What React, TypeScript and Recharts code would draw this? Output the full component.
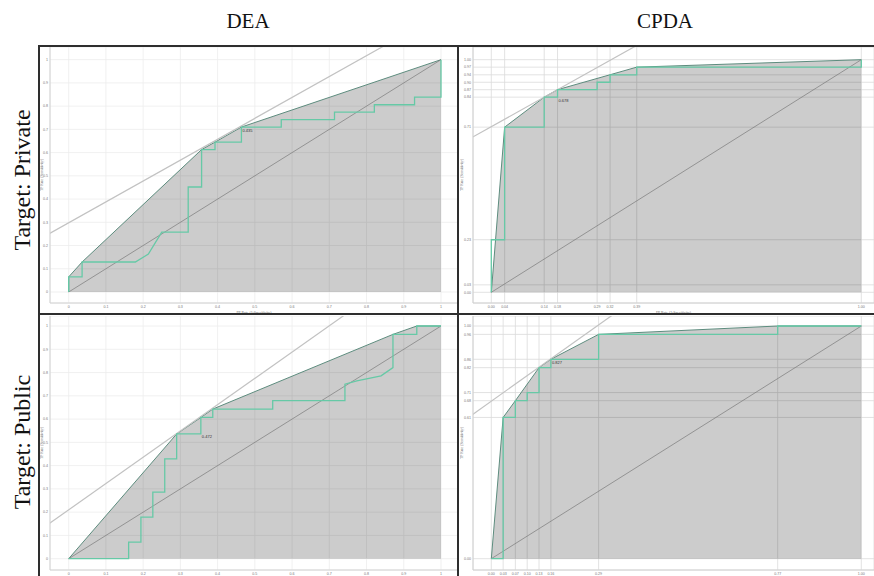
import React from 'react';
import {
  ComposedChart,
  Area,
  Line,
  Scatter,
  XAxis,
  YAxis,
  CartesianGrid,
  ReferenceLine,
} from 'recharts';

type Pt = { x: number; y: number };

// DEA - private target
const deaPrivateRoc: Pt[] = [
  { x: 0, y: 0 }, { x: 0, y: 0.065 }, { x: 0.036, y: 0.065 }, { x: 0.036, y: 0.129 },
  { x: 0.179, y: 0.129 }, { x: 0.214, y: 0.163 }, { x: 0.25, y: 0.258 }, { x: 0.321, y: 0.258 },
  { x: 0.321, y: 0.452 }, { x: 0.357, y: 0.452 }, { x: 0.357, y: 0.613 }, { x: 0.393, y: 0.613 },
  { x: 0.393, y: 0.645 }, { x: 0.464, y: 0.645 }, { x: 0.464, y: 0.71 }, { x: 0.571, y: 0.71 },
  { x: 0.571, y: 0.742 }, { x: 0.714, y: 0.742 }, { x: 0.714, y: 0.774 }, { x: 0.821, y: 0.774 },
  { x: 0.821, y: 0.806 }, { x: 0.929, y: 0.806 }, { x: 0.929, y: 0.839 }, { x: 1, y: 0.839 },
  { x: 1, y: 1 },
];
const deaPrivateHull: Pt[] = [
  { x: 0, y: 0 }, { x: 0, y: 0.065 }, { x: 0.036, y: 0.129 }, { x: 0.357, y: 0.613 },
  { x: 0.393, y: 0.645 }, { x: 0.464, y: 0.71 }, { x: 1, y: 1 },
];
const deaPrivateTangent = { intercept: 0.298, slope: 0.899 };
const deaPrivateCut = [{ x: 0.464, y: 0.71, label: '0.435' }];

// CPDA - private target
const cpdaPrivateRoc: Pt[] = [
  { x: 0, y: 0 }, { x: 0, y: 0.226 }, { x: 0.036, y: 0.226 }, { x: 0.036, y: 0.71 },
  { x: 0.143, y: 0.71 }, { x: 0.143, y: 0.839 }, { x: 0.179, y: 0.839 }, { x: 0.179, y: 0.871 },
  { x: 0.286, y: 0.871 }, { x: 0.286, y: 0.903 }, { x: 0.321, y: 0.903 }, { x: 0.321, y: 0.935 },
  { x: 0.393, y: 0.935 }, { x: 0.393, y: 0.968 }, { x: 1, y: 0.968 }, { x: 1, y: 1 },
];
const cpdaPrivateHull: Pt[] = [
  { x: 0, y: 0 }, { x: 0.036, y: 0.71 }, { x: 0.143, y: 0.839 }, { x: 0.179, y: 0.871 },
  { x: 0.393, y: 0.968 }, { x: 1, y: 1 },
];
const cpdaPrivateXTicks = [0, 0.036, 0.143, 0.179, 0.286, 0.321, 0.393, 1];
const cpdaPrivateYTicks = [0, 0.032, 0.226, 0.71, 0.839, 0.871, 0.903, 0.935, 0.968, 1];
const cpdaPrivateTangent = { intercept: 0.712, slope: 0.889 };
const cpdaPrivateCut = [{ x: 0.179, y: 0.839, label: '0.678' }];

// DEA - public target
const deaPublicRoc: Pt[] = [
  { x: 0, y: 0 }, { x: 0.161, y: 0 }, { x: 0.161, y: 0.071 }, { x: 0.194, y: 0.071 },
  { x: 0.194, y: 0.179 }, { x: 0.226, y: 0.179 }, { x: 0.226, y: 0.286 }, { x: 0.258, y: 0.286 },
  { x: 0.258, y: 0.429 }, { x: 0.29, y: 0.429 }, { x: 0.29, y: 0.536 }, { x: 0.355, y: 0.536 },
  { x: 0.355, y: 0.607 }, { x: 0.387, y: 0.607 }, { x: 0.387, y: 0.643 }, { x: 0.548, y: 0.643 },
  { x: 0.548, y: 0.679 }, { x: 0.742, y: 0.679 }, { x: 0.742, y: 0.75 }, { x: 0.774, y: 0.764 },
  { x: 0.839, y: 0.786 }, { x: 0.871, y: 0.821 }, { x: 0.871, y: 0.964 }, { x: 0.935, y: 0.964 },
  { x: 0.935, y: 1 }, { x: 1, y: 1 },
];
const deaPublicHull: Pt[] = [
  { x: 0, y: 0 }, { x: 0.29, y: 0.536 }, { x: 0.355, y: 0.607 }, { x: 0.387, y: 0.643 },
  { x: 0.871, y: 0.964 }, { x: 0.935, y: 1 }, { x: 1, y: 1 },
];
const deaPublicTangent = { intercept: 0.21, slope: 1.13 };
const deaPublicCut = [{ x: 0.355, y: 0.536, label: '0.472' }];

// CPDA - public target
const cpdaPublicRoc: Pt[] = [
  { x: 0, y: 0 }, { x: 0.032, y: 0 }, { x: 0.032, y: 0.607 }, { x: 0.065, y: 0.607 },
  { x: 0.065, y: 0.679 }, { x: 0.097, y: 0.679 }, { x: 0.097, y: 0.714 }, { x: 0.129, y: 0.714 },
  { x: 0.129, y: 0.821 }, { x: 0.161, y: 0.821 }, { x: 0.161, y: 0.857 }, { x: 0.29, y: 0.857 },
  { x: 0.29, y: 0.964 }, { x: 0.774, y: 0.964 }, { x: 0.774, y: 1 }, { x: 1, y: 1 },
];
const cpdaPublicHull: Pt[] = [
  { x: 0, y: 0 }, { x: 0.032, y: 0.607 }, { x: 0.065, y: 0.679 }, { x: 0.129, y: 0.821 },
  { x: 0.161, y: 0.857 }, { x: 0.29, y: 0.964 }, { x: 0.774, y: 1 }, { x: 1, y: 1 },
];
const cpdaPublicXTicks = [0, 0.032, 0.065, 0.097, 0.129, 0.161, 0.29, 0.774, 1];
const cpdaPublicYTicks = [0, 0.607, 0.679, 0.714, 0.821, 0.857, 0.964, 1];
const cpdaPublicTangent = { intercept: 0.677, slope: 1.13 };
const cpdaPublicCut = [{ x: 0.161, y: 0.857, label: '0.827' }];

const tenthTicks = [0, 0.1, 0.2, 0.3, 0.4, 0.5, 0.6, 0.7, 0.8, 0.9, 1];

const ROC_GREEN = '#66c9a6';
const HULL_LINE = '#5d8c7e';
const AXIS_FONT = '"Liberation Sans", Arial, sans-serif';

interface PanelProps {
  left: number;
  top: number;
  width: number;
  height: number;
  axisWidth: number;
  axisHeight: number;
  xDomain: [number, number];
  yDomain: [number, number];
  xTicks: number[];
  yTicks: number[];
  fmt: (v: number) => string;
  gridColor: string;
  roc: Pt[];
  hull: Pt[];
  tangent: { intercept: number; slope: number };
  cut: { x: number; y: number; label: string }[];
  showXTitle?: boolean;
}

const CutLabel = (props: any) => {
  const { cx, cy, payload } = props;
  return (
    <text x={cx + 1} y={cy + 4.5} fontSize={4} fill="#333" fontFamily={AXIS_FONT}>
      {payload.label}
    </text>
  );
};

const RocPanel: React.FC<PanelProps> = (p) => {
  const { intercept, slope } = p.tangent;
  const tick = { fontSize: 3.6, fill: '#777', fontFamily: AXIS_FONT };
  return (
    <div style={{ position: 'absolute', left: p.left, top: p.top }}>
      <ComposedChart
        width={p.width}
        height={p.height}
        margin={{ top: 0, right: 0, bottom: 0, left: 0 }}
      >
        <CartesianGrid stroke={p.gridColor} strokeWidth={0.8} />
        <XAxis
          type="number"
          dataKey="x"
          domain={p.xDomain}
          allowDataOverflow
          ticks={p.xTicks}
          interval={0}
          tickFormatter={p.fmt}
          tick={tick}
          tickLine={false}
          tickSize={1}
          tickMargin={1}
          height={p.axisHeight}
          axisLine={{ stroke: '#d2d2d2', strokeWidth: 1 }}
          label={
            p.showXTitle
              ? { value: 'FP Rate (1-Specificity)', position: 'insideBottom', offset: 0, fontSize: 3.8, fill: '#666' }
              : undefined
          }
        />
        <YAxis
          type="number"
          dataKey="y"
          domain={p.yDomain}
          allowDataOverflow
          ticks={p.yTicks}
          interval={0}
          tickFormatter={p.fmt}
          tick={tick}
          tickLine={false}
          tickSize={1}
          tickMargin={1}
          width={p.axisWidth}
          axisLine={{ stroke: '#d2d2d2', strokeWidth: 1 }}
          label={{
            value: 'TP Rate (Sensitivity)',
            angle: -90,
            position: 'center',
            dx: -p.axisWidth / 2 + 2,
            fontSize: 3.8,
            fill: '#666',
          }}
        />
        <Area
          data={p.hull}
          dataKey="y"
          type="linear"
          baseValue={0}
          fill="#000"
          fillOpacity={0.2}
          stroke={HULL_LINE}
          strokeWidth={1}
          isAnimationActive={false}
        />
        <ReferenceLine
          segment={[{ x: 0, y: 0 }, { x: 1, y: 1 }]}
          stroke="#7a7a7a"
          strokeWidth={0.7}
        />
        <ReferenceLine
          segment={[
            { x: -1, y: intercept - slope },
            { x: 2, y: intercept + 2 * slope },
          ]}
          stroke="#c2c2c2"
          strokeWidth={1.2}
          ifOverflow="hidden"
        />
        <Line
          data={p.roc}
          dataKey="y"
          type="linear"
          stroke={ROC_GREEN}
          strokeWidth={1.3}
          dot={false}
          isAnimationActive={false}
        />
        <Scatter data={p.cut} dataKey="y" shape={CutLabel} isAnimationActive={false} />
      </ComposedChart>
    </div>
  );
};

const tenths = (v: number) => String(Math.round(v * 10) / 10);
const twoDp = (v: number) => v.toFixed(2);

const frame = '#2e2e2e';

const rowLabel: React.CSSProperties = {
  position: 'absolute',
  left: -78,
  width: 200,
  height: 26,
  lineHeight: '26px',
  textAlign: 'center',
  fontSize: 24,
  transform: 'rotate(-90deg)',
};

export default function App() {
  return (
    <div
      style={{
        position: 'absolute',
        left: 0,
        top: 0,
        width: 874,
        height: 576,
        background: '#fff',
        overflow: 'hidden',
        fontFamily: '"Liberation Serif", "Times New Roman", serif',
        color: '#111',
      }}
    >
      <div style={{ position: 'absolute', left: 148, top: 11, width: 200, textAlign: 'center', fontSize: 21, lineHeight: '21px' }}>
        DEA
      </div>
      <div style={{ position: 'absolute', left: 565, top: 11, width: 200, textAlign: 'center', fontSize: 21, lineHeight: '21px' }}>
        CPDA
      </div>
      <div style={{ ...rowLabel, top: 167 }}>Target: Private</div>
      <div style={{ ...rowLabel, top: 429 }}>Target: Public</div>

      <RocPanel
        left={40} top={47} width={418} height={267}
        axisWidth={10} axisHeight={11}
        xDomain={[-0.0502, 1.0457]} yDomain={[-0.0474, 1.0546]}
        xTicks={tenthTicks} yTicks={tenthTicks} fmt={tenths}
        gridColor="#ececec"
        roc={deaPrivateRoc} hull={deaPrivateHull}
        tangent={deaPrivateTangent} cut={deaPrivateCut} showXTitle
      />
      <RocPanel
        left={460} top={47} width={414} height={267}
        axisWidth={13} axisHeight={11}
        xDomain={[-0.0495, 1.0343]} yDomain={[-0.046, 1.0546]}
        xTicks={cpdaPrivateXTicks} yTicks={cpdaPrivateYTicks} fmt={twoDp}
        gridColor="#dadada"
        roc={cpdaPrivateRoc} hull={cpdaPrivateHull}
        tangent={cpdaPrivateTangent} cut={cpdaPrivateCut} showXTitle
      />
      <RocPanel
        left={40} top={316} width={418} height={260}
        axisWidth={10} axisHeight={6}
        xDomain={[-0.0502, 1.0457]} yDomain={[-0.0486, 1.043]}
        xTicks={tenthTicks} yTicks={tenthTicks} fmt={tenths}
        gridColor="#ececec"
        roc={deaPublicRoc} hull={deaPublicHull}
        tangent={deaPublicTangent} cut={deaPublicCut}
      />
      <RocPanel
        left={460} top={316} width={414} height={260}
        axisWidth={13} axisHeight={6}
        xDomain={[-0.0495, 1.0343]} yDomain={[-0.0486, 1.043]}
        xTicks={cpdaPublicXTicks} yTicks={cpdaPublicYTicks} fmt={twoDp}
        gridColor="#dadada"
        roc={cpdaPublicRoc} hull={cpdaPublicHull}
        tangent={cpdaPublicTangent} cut={cpdaPublicCut}
      />

      {/* panel frame */}
      <div style={{ position: 'absolute', left: 38, top: 45, width: 836, height: 2, background: frame }} />
      <div style={{ position: 'absolute', left: 38, top: 45, width: 2, height: 531, background: frame }} />
      <div style={{ position: 'absolute', left: 457, top: 45, width: 2, height: 531, background: frame }} />
      <div style={{ position: 'absolute', left: 38, top: 313, width: 836, height: 2, background: frame }} />
    </div>
  );
}
